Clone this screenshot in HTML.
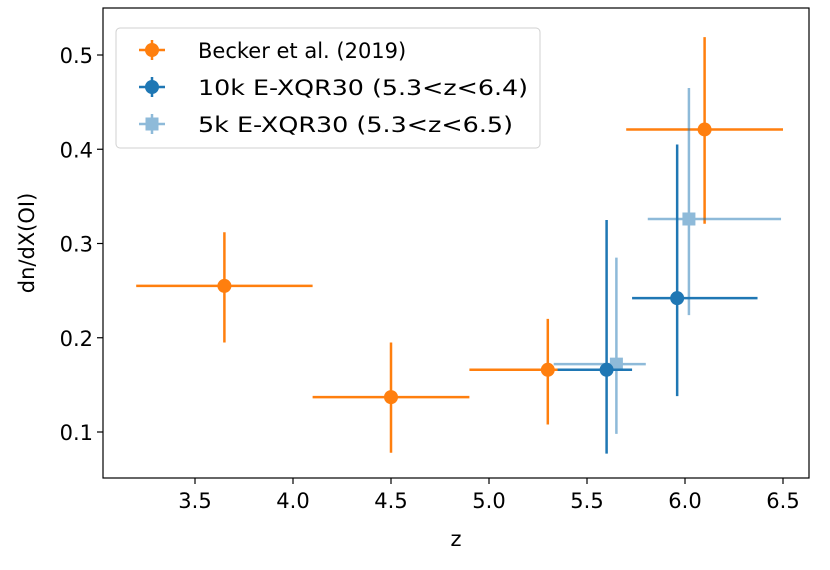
<!DOCTYPE html>
<html><head><meta charset="utf-8"><style>
body{margin:0;background:#fff}
svg text{font-family:"DejaVu Sans","Liberation Sans",sans-serif;font-size:21px;fill:#000}
</style></head><body>
<svg id="chart" width="830" height="565">
<g id="plot"></g>
</svg>
<script>
const bz=[3.65,4.5,5.3,6.1], by=[0.255,0.137,0.166,0.421];
const bxlo=[3.2,4.1,4.9,5.7], bxhi=[4.1,4.9,5.7,6.5];
const bylo=[0.195,0.078,0.108,0.321], byhi=[0.312,0.195,0.22,0.519];
const tz=[5.6,5.96], ty=[0.166,0.242];
const txlo=[5.35,5.73], txhi=[5.73,6.37];
const tylo=[0.077,0.138], tyhi=[0.325,0.405];
const fz=[5.65,6.02], fy=[0.172,0.326];
const fxlo=[5.33,5.81], fxhi=[5.8,6.49];
const fylo=[0.098,0.224], fyhi=[0.285,0.465];
const xticks=[3.5,4.0,4.5,5.0,5.5,6.0,6.5];
const yticks=[0.1,0.2,0.3,0.4,0.5];
const L=103,R=809,T=8,B=478;
const X=v=>293+(v-4)*196;
const Y=v=>432-(v-0.1)*942.5;
const NS='http://www.w3.org/2000/svg';
const svg=document.getElementById('chart'), g=document.getElementById('plot');
function el(t,a,p){const e=document.createElementNS(NS,t);for(const k in a)e.setAttribute(k,a[k]);(p||svg).appendChild(e);return e;}
function series(xs,ys,xl,xh,yl,yh,color,op,sq,name){
 for(let i=0;i<xs.length;i++){
  const gg=el('g',{opacity:op},g);
  
  
  el('line',{x1:X(xl[i]),x2:X(xh[i]),y1:Y(ys[i]),y2:Y(ys[i]),stroke:color,'stroke-width':2.5},gg);
  el('line',{x1:X(xs[i]),x2:X(xs[i]),y1:Y(yl[i]),y2:Y(yh[i]),stroke:color,'stroke-width':2.5},gg);
  if(sq) el('rect',{x:X(xs[i])-6.5,y:Y(ys[i])-6.5,width:13,height:13,fill:color},gg);
  else el('circle',{cx:X(xs[i]),cy:Y(ys[i]),r:7,fill:color},gg);
 }
}
series(bz,by,bxlo,bxhi,bylo,byhi,'#ff7f0e',1,false,'becker');
series(tz,ty,txlo,txhi,tylo,tyhi,'#1f77b4',1,false,'exqr30-10k');
series(fz,fy,fxlo,fxhi,fylo,fyhi,'#1f77b4',0.5,true,'exqr30-5k');
const fr=el('rect',{x:L,y:T,width:R-L,height:B-T,fill:'none',stroke:'#000','stroke-width':1.2});

xticks.forEach(v=>{el('line',{x1:X(v),x2:X(v),y1:B,y2:B+6,stroke:'#000','stroke-width':1.2});
 const t=el('text',{x:X(v),y:B+30,'text-anchor':'middle'});t.textContent=v.toFixed(1);
 });
yticks.forEach(v=>{el('line',{x1:L-6,x2:L,y1:Y(v),y2:Y(v),stroke:'#000','stroke-width':1.2});
 const t=el('text',{x:L-10,y:Y(v)+8,'text-anchor':'end'});t.textContent=v.toFixed(1);
 });
const xt=el('text',{x:456,y:546,'text-anchor':'middle'});xt.textContent='z';

const yt=el('text',{x:0,y:0,'text-anchor':'middle',transform:'translate(34,243) rotate(-90)'});yt.textContent='dn/dX(OI)';

const lg=el('g',{});
el('rect',{x:116,y:28,width:424,height:120,rx:4,fill:'#fff',stroke:'#ccc',opacity:0.9},lg);
const ents=[['Becker et al. (2019)','#ff7f0e',1,false,0],['10k E-XQR30 (5.3<z<6.4)','#1f77b4',1,false,330],['5k E-XQR30 (5.3<z<6.5)','#1f77b4',0.5,true,315]];
ents.forEach((e,i)=>{const y=50+i*37;const gg=el('g',{opacity:e[2]},lg);
 
 el('line',{x1:139,x2:165,y1:y,y2:y,stroke:e[1],'stroke-width':2.5},gg);
 el('line',{x1:152,x2:152,y1:y-10,y2:y+10,stroke:e[1],'stroke-width':2.5},gg);
 if(e[3])el('rect',{x:145.5,y:y-6.5,width:13,height:13,fill:e[1]},gg);else el('circle',{cx:152,cy:y,r:7,fill:e[1]},gg);
 const a={x:198,y:y+8};if(e[4]){a.textLength=e[4];a.lengthAdjust='spacingAndGlyphs';}
 const t=el('text',a,lg);t.textContent=e[0];});
</script>
</body></html>
